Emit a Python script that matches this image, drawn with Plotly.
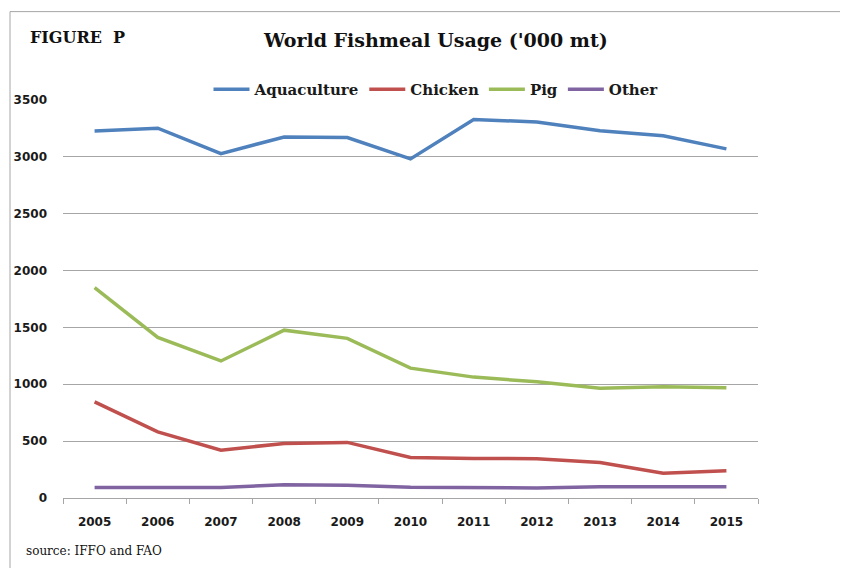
import plotly.graph_objects as go

years = ["2005", "2006", "2007", "2008", "2009", "2010",
         "2011", "2012", "2013", "2014", "2015"]

aquaculture = [3228, 3252, 3028, 3175, 3170, 2982, 3328, 3307, 3230, 3185, 3070]
chicken = [845, 582, 421, 480, 489, 357, 348, 346, 313, 217, 240]
pig = [1851, 1412, 1205, 1476, 1404, 1142, 1063, 1022, 965, 978, 970]
other = [92, 95, 92, 116, 112, 95, 92, 88, 100, 100, 100]

y_ticks = [0, 500, 1000, 1500, 2000, 2500, 3000, 3500]

SERIES = [
    ("Aquaculture", aquaculture, "#4f81bd"),
    ("Chicken", chicken, "#c0504d"),
    ("Pig", pig, "#9bbb59"),
    ("Other", other, "#8064a2"),
]

SERIF = "DejaVu Serif"
SANS = "DejaVu Sans"

# the page body has an 8px margin, so the figure is drawn 8px in from the window edge
OFF = 8
W, H = 848 - OFF, 568 - OFF
# plot area in window pixels: x 63..758, y 99.5..498
PL, PR, PT, PB = 63 - OFF, 758 - OFF, 99.5 - OFF, 498 - OFF


def px_x(px):
    return (px - OFF - PL) / (PR - PL)


def px_y(py):
    return (PB - (py - OFF)) / (PB - PT)


fig = go.Figure()
for name, vals, color in SERIES:
    fig.add_trace(go.Scatter(x=years, y=vals, mode="lines", name=name,
                             line=dict(color=color, width=3.5)))

fig.update_layout(
    width=W, height=H,
    margin=dict(l=PL, r=W - PR, t=PT, b=H - PB),
    paper_bgcolor="white", plot_bgcolor="white",
    showlegend=True,
    legend=dict(orientation="h", x=px_x(436), y=px_y(89), xanchor="center", yanchor="middle",
                font=dict(family=SERIF, size=15, color="#1a1a1a", weight="bold"),
                itemwidth=36, tracegroupgap=0, bgcolor="rgba(0,0,0,0)"),
)

fig.update_xaxes(type="category", range=[-0.5, 10.5], automargin=False, showgrid=False,
                 showline=True, linecolor="#a6a6a6", linewidth=1, ticks="outside",
                 tickson="boundaries", ticklen=5, tickcolor="#a6a6a6", ticklabelstandoff=13,
                 tickfont=dict(family=SANS, size=12, color="#1a1a1a", weight="bold"))
fig.update_yaxes(range=[0, 3500], tickvals=y_ticks, automargin=False, showgrid=True,
                 gridcolor="#a6a6a6", gridwidth=1, zeroline=False, showline=False, ticks="",
                 ticklabelstandoff=15,
                 tickfont=dict(family=SANS, size=12, color="#1a1a1a", weight="bold"))

fig.add_annotation(text="FIGURE&nbsp; P", x=px_x(28), y=px_y(37), xref="paper", yref="paper",
                   xanchor="left", yanchor="middle", showarrow=False,
                   font=dict(family=SERIF, size=16, color="#111", weight="bold"))
fig.add_annotation(text="World Fishmeal Usage ('000 mt)", x=px_x(435), y=px_y(39),
                   xref="paper", yref="paper", xanchor="center", yanchor="middle",
                   showarrow=False,
                   font=dict(family=SERIF, size=19, color="#111", weight="bold"))
fig.add_annotation(text="source: IFFO and FAO", x=px_x(24), y=px_y(551), xref="paper",
                   yref="paper", xanchor="left", yanchor="middle", showarrow=False,
                   font=dict(family=SERIF, size=12, color="#111"))

# chart frame (top and left edges visible)
fig.add_shape(type="rect", xref="paper", yref="paper",
              x0=px_x(10), y0=px_y(700), x1=px_x(1000), y1=px_y(11),
              line=dict(color="#a6a6a6", width=1), layer="below")

fig.write_html("out.html")
